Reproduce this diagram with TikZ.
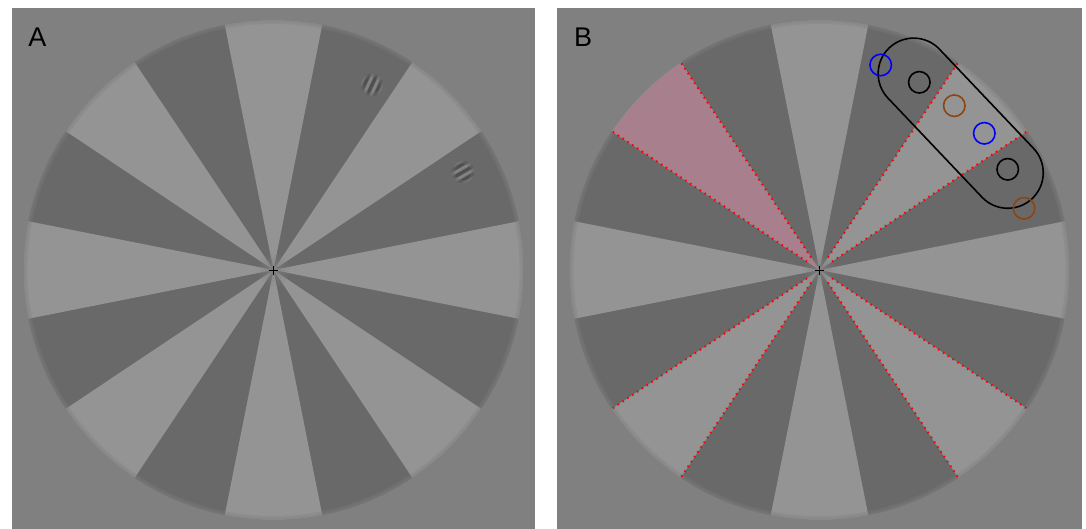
\documentclass[tikz,border=0pt]{standalone}
\usepackage{fontspec}
\setmainfont{Liberation Sans}
\usetikzlibrary{positioning}
\definecolor{panelgray}{RGB}{128,128,128}
\definecolor{sectorlight}{RGB}{148,148,148}
\definecolor{sectordark}{RGB}{105,105,105}
\definecolor{sectorpink}{RGB}{168,127,141}
\definecolor{ringbrown}{RGB}{139,69,19}
\definecolor{ringblue}{RGB}{0,0,255}

\begin{document}
\begin{tikzpicture}[x=1pt, y=-1pt,
        every node/.append style={font=\fontsize{27}{30}\selectfont, inner sep=0pt},
        reddots/.style={red, line width=2pt, dash pattern=on 1.6pt off 4.2pt},
        marker/.style={circle, draw, line width=1.6pt, minimum size=21.5pt}]
      \tikzstyle{panel} = [fill=panelgray]
      \useasboundingbox (0,0) rectangle (1086,529);
      \fill[white] (0,0) rectangle (1086,529);
      \fill[panel] (12,8) rectangle (535,529);
      \fill[panel] (557,8) rectangle (1082,529);
      \coordinate (cA) at (273.5,270);
      \coordinate (cB) at (819.5,270);
      % the two wheels
      \foreach \c in {cA,cB} {
        \begin{scope}[shift={(\c)}]
          \fill[sectordark] (0,0) circle[radius=250];
          \begin{scope}
            \clip (0,0) circle[radius=250];
            \foreach \a in {0,45,...,315}
              \fill[sectorlight] (0,0) -- (\a-11.25:300) -- (\a+11.25:300) -- cycle;
          \end{scope}
          \draw[panelgray, line width=4pt, opacity=0.5] (0,0) circle[radius=250];
          \draw[panelgray, line width=2pt, opacity=0.3] (0,0) circle[radius=247];
          \foreach \rr/\op in {16/0.15, 12/0.2, 8/0.3, 5/0.35}
            \fill[panelgray, opacity=\op] (0,0) circle[radius=\rr];
          \draw[line width=1pt] (-4.5,0) -- (4.5,0) (0,-4.5) -- (0,4.5);
        \end{scope}
      }
      % gratings in A
      \foreach \gx/\gy/\r in {372/85/65, 463/172/30} {
        \begin{scope}[shift={(\gx,\gy)}, rotate=\r]
          \clip (0,0) circle[radius=11];
          \fill[sectordark] (-12,-12) rectangle (12,12);
          \foreach \s in {-7,0,7}
            \draw[black!35!sectordark, line width=3pt, opacity=0.7] (-12,\s) -- (12,\s);
          \foreach \s in {-10.5,-3.5,3.5,10.5}
            \draw[sectorlight, line width=2.6pt, opacity=0.6] (-12,\s) -- (12,\s);
          \draw[sectordark, line width=5pt, opacity=0.6] (0,0) circle[radius=11];
        \end{scope}
      }
      % marked sectors in B
      \begin{scope}[shift={(cB)}]
        \begin{scope}
          \clip (0,0) circle[radius=249];
          \fill[sectorpink] (0,0) -- (-146.25:300) -- (-123.75:300) -- cycle;
        \end{scope}
        \foreach \a in {33.75,56.25,123.75,146.25,213.75,236.25,303.75,326.25}
          \draw[reddots] (\a:15) -- (\a:250);
      \end{scope}
      \node (labelA) at (37.5,37.5) {A};
      \node (labelB) at (583,37) {B};
      \node (capsule) [draw, line width=1.6pt, rounded corners=35.5pt,
        minimum width=207.7pt, minimum height=71pt, rotate=-46.5] at (960.7,123.2) {};
      \node (blueA) [marker, ringblue] at (880.7,65) {};
      \node (blackA) [marker, black] at (919.3,82.3) {};
      \node (brownA) [marker, ringbrown] at (954.3,105.7) {};
      \node (blueB) [marker, ringblue] at (984.3,133.3) {};
      \node (blackB) [marker, black] at (1007.7,169.3) {};
      \node (brownB) [marker, ringbrown] at (1024,208.3) {};
    \end{tikzpicture}
\end{document}
